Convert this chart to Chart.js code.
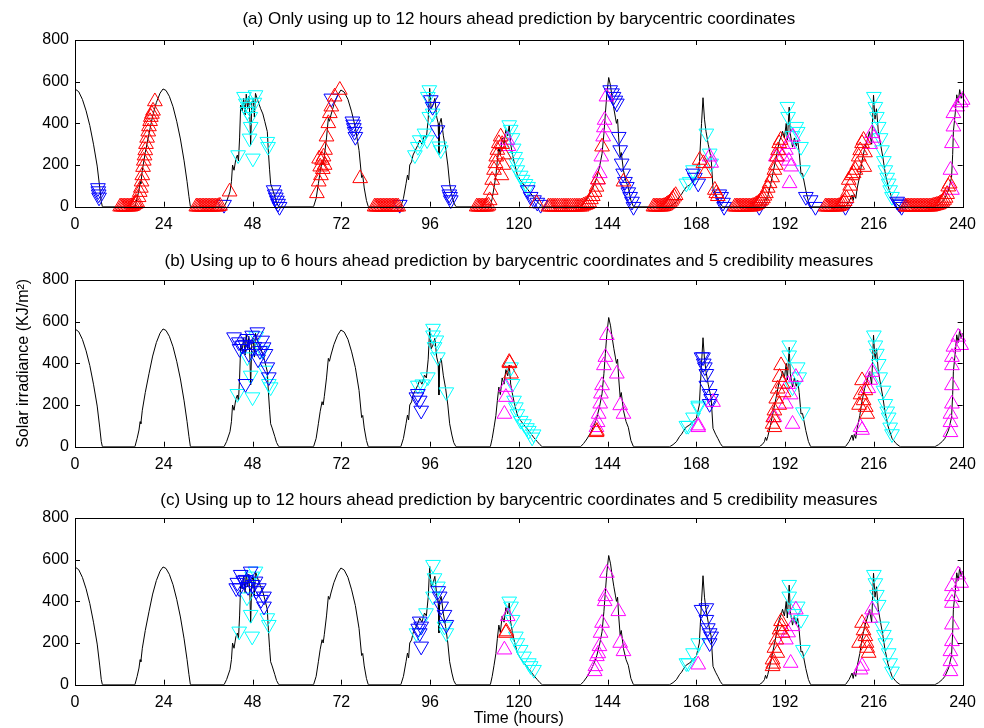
<!DOCTYPE html>
<html>
<head>
<meta charset="utf-8">
<script src="https://cdn.jsdelivr.net/npm/chart.js@4.4.1/dist/chart.umd.min.js"></script>
<style>
  body { margin: 0; background: #fff; }
  #wrap { position: relative; width: 984px; height: 728px; overflow: hidden; }
  canvas { position: absolute; left: 0; }
</style>
</head>
<body>
<div id="wrap">
  <canvas id="panelA" width="984" height="240" style="top:0px"></canvas>
  <canvas id="panelB" width="984" height="240" style="top:240px"></canvas>
  <canvas id="panelC" width="984" height="250" style="top:478px"></canvas>
</div>
<script>
// measured solar irradiance, [hour, KJ/m2]
const observed = [
  [0,565],[1,552],[2,515],[3,460],[4,390],[5,300],[6,195],[6.7,90],[7.1,25],[7.4,0],
  [16.2,0],[16.8,40],[17.3,80],[17.6,120],[17.8,110],[18.2,175],[19,260],[20,350],[21,435],[22,500],[23,545],[23.8,565],[24.6,558],[25.5,530],[26.5,480],[27.5,410],[28.5,325],[29.5,220],[30.3,120],[30.8,50],[31.2,0],
  [40.3,0],[41,25],[41.9,72],[42.3,120],[42.6,200],[43,175],[43.5,230],[43.9,248],[44.2,220],[44.5,330],[44.8,488],[45.2,460],[45.6,520],[46,440],[46.3,540],[46.7,470],[47,530],[47.3,420],[47.5,296],[47.8,500],[48.2,520],[48.5,430],[48.8,544],[49.3,515],[49.8,490],[50.2,470],[50.8,445],[51.3,410],[52,360],[52.3,260],[52.6,180],[52.9,110],[53.3,90],[54,50],[54.5,20],[55.1,0],
  [64.5,0],[65.2,40],[65.8,110],[66.3,170],[66.8,216],[67.1,200],[67.4,240],[68,330],[68.5,424],[68.8,410],[69.2,440],[70,490],[71,535],[71.9,560],[72.8,550],[73.8,515],[74.8,455],[75.8,380],[76.8,270],[77.5,140],[77.8,150],[78.2,90],[78.8,30],[79.3,0],
  [88.1,0],[88.8,40],[89.5,110],[89.9,152],[90.2,128],[90.5,200],[91,215],[91.4,248],[92,270],[92.7,296],[93.2,320],[93.8,300],[94.5,344],[95,330],[95.5,420],[95.9,568],[96.3,470],[96.8,488],[97.3,520],[97.8,430],[98.2,400],[98.4,248],[98.6,400],[99,424],[99.6,340],[100.2,280],[100.8,200],[101.3,110],[101.9,56],[102.4,20],[103,0],
  [112.3,0],[112.8,40],[113.3,93],[113.8,150],[114.2,222],[114.6,286],[115,250],[115.5,330],[116,300],[116.5,370],[117,340],[117.4,392],[117.8,300],[118.2,260],[118.7,216],[119.6,152],[120.5,125],[121.4,104],[122.3,85],[123.2,64],[124,45],[125,24],[125.7,10],[126.3,0],
  [136.7,0],[137.5,15],[138.4,37],[139.5,70],[140.5,110],[141.1,141],[141.8,190],[142.5,254],[143,350],[143.4,447],[143.8,540],[144.3,620],[144.8,580],[145.2,527],[145.7,470],[146.1,430],[146.4,400],[146.7,420],[147,330],[147.4,238],[147.7,260],[148.3,173],[149,120],[149.6,93],[150.3,30],[151,0],
  [160.8,0],[161.7,10],[162.6,24],[163.5,50],[164,60],[164.4,72],[165.3,95],[166.2,104],[167,120],[168,137],[168.8,200],[169.4,400],[169.8,523],[170.2,420],[170.6,362],[171.2,300],[172,233],[172.5,88],[173.2,60],[173.8,40],[174.5,15],[175.1,0],
  [185,0],[185.8,10],[186.4,24],[186.7,45],[187,30],[187.3,48],[188,100],[188.6,152],[189.5,230],[190.4,312],[191,340],[191.3,362],[191.8,330],[192.3,400],[192.6,320],[193.1,478],[193.4,350],[194,286],[194.5,330],[195,290],[195.4,318],[195.8,260],[196.3,157],[196.7,160],[197.6,77],[198.3,25],[198.9,0],
  [208.3,0],[209.3,25],[210.1,56],[210.4,30],[210.7,60],[211.1,40],[211.5,90],[212.2,150],[212.8,220],[213.5,280],[214.2,320],[214.8,360],[215.4,300],[215.9,535],[216.3,420],[216.7,470],[217.2,362],[217.8,300],[218.4,240],[219,169],[219.8,100],[220.9,40],[222,15],[223.1,0],
  [232.5,0],[233.5,10],[234.5,25],[235.2,40],[236.2,80],[237,141],[237.3,250],[237.5,362],[238,450],[238.4,537],[238.8,500],[239.2,562],[239.6,520],[240,545]
];

// (a) predictions, up to 12 h ahead
const aRed = [
  [12.2,0],[12.6,0],[13,0],[13.4,0],[13.8,0],[14.2,0],[14.6,0],[15,0],[15.4,2],[15.8,6],[16.2,12],[16.5,15],
  [16.8,20],[17.2,45],[17.5,70],[17.8,90],[18,120],[18.2,150],[18.4,190],[18.6,220],[18.8,245],[19,270],[19.2,300],[19.5,330],[19.8,360],[20,385],[20.3,410],[20.5,430],[20.8,445],[21.1,460],[21.6,505],
  [32.8,0],[33.2,0],[33.6,0],[34,0],[34.4,0],[34.8,0],[35.2,0],[35.6,0],[36,0],[36.4,0],[36.8,0],[37.2,0],[37.6,0],[38,0],[38.4,0],[38.8,2],[39.2,4],
  [41.8,72],
  [65.4,64],[65.9,120],[66,230],[66.3,192],[66.5,150],[66.8,224],[67,180],[67.2,240],[67.5,200],[67.6,272],[68,336],[68.5,400],[68.9,448],[69.3,480],[70.2,528],[71.6,560],
  [77.1,136],
  [81,0],[81.4,0],[81.8,0],[82.2,0],[82.6,0],[83,0],[83.4,0],[83.8,0],[84.2,0],[84.6,0],[85,0],[85.4,0],[85.8,0],[86.2,0],[86.6,0],[87,0],[87.4,0],
  [108.6,0],[109,0],[109.4,0],[109.8,0],[110.2,0],[110.6,0],[111,0],[111.4,0],[111.8,5],[112.1,30],[112.4,80],[112.8,128],[113.3,176],[113.7,208],[113.9,240],[114.2,272],[114.6,304],[115.1,336],[115.5,300],[115.8,200],[116,250],[115.3,150],
  [124.8,16],
  [128,0],[128.5,0],[129,0],[129.5,0],[130,0],[130.5,0],[131,0],[131.5,0],[132,0],[132.5,0],[133,0],[133.5,0],[134,0],[134.5,0],[135,0],[135.5,0],[136,0],[136.5,0],[137,0],[137.5,5],[138,8],[138.5,12],[139,20],[139.5,35],[140,50],[140.5,70],[141,95],[141.4,130],
  [142.5,288],[148.3,120],
  [156.4,0],[156.8,0],[157.2,0],[157.6,0],[158,0],[158.4,0],[158.8,0],[159.2,2],[159.6,5],[160,10],[160.4,15],[160.8,20],[161.2,28],[161.6,38],[162,48],[162.4,55],
  [168.9,224],[169.9,208],[170.3,160],[173,80],[173.4,64],[173.8,50],
  [178.4,0],[178.8,0],[179.2,0],[179.6,0],[180,0],[180.4,0],[180.8,0],[181.2,0],[181.6,0],[182,0],[182.4,0],[182.8,0],[183.2,2],[183.6,4],[184,8],[184.4,12],[184.8,18],[185.2,25],[185.6,32],[186,40],[186.4,52],[186.8,64],[187.3,90],[187.8,112],[188.5,140],[189.1,176],[189.5,200],[189.8,240],[190.1,270],[190.4,304],[190.8,320],
  [202.9,0],[203.3,0],[203.7,0],[204.1,0],[204.5,0],[204.9,0],[205.3,0],[205.7,0],[206.1,0],[206.5,2],[206.9,5],[207.3,10],[207.7,18],[208.1,26],[208.6,40],[209,70],[209.2,128],[209.6,100],[210,150],[210.5,160],[211,176],[211.5,200],[211.9,240],[212.3,270],[212.8,304],[213.2,320],[213.6,260],[213.4,190],
  [224.6,0],[225,0],[225.4,0],[225.8,0],[226.2,0],[226.6,0],[227,0],[227.4,0],[227.8,0],[228.2,0],[228.6,0],[229,0],[229.4,0],[229.8,0],[230.2,0],[230.6,0],[231,0],[231.4,0],[231.8,2],[232.2,4],[232.6,6],[233,8],[233.4,10],[233.8,14],[234.2,18],[234.6,24],[235,32],[235.4,42],[235.8,60],[236.1,96],[236.5,110]
];
const aCyan = [
  [44.1,248],[45.7,528],[46.2,496],[46.6,456],[47,480],[47.4,432],[47.5,384],[47.2,328],[48.1,232],[48.8,536],[48.5,500],[52,312],[52.2,288],
  [91.9,248],[92.7,288],[93.2,320],[94.5,352],[95.2,320],[95.4,528],[95.8,560],[95.8,432],[96.7,448],[98.5,290],[98.9,272],
  [117.4,392],[117.8,370],[118.3,330],[118.6,280],[119,240],[119.3,210],[119.6,176],[120.5,150],[121,130],[121.8,110],[122.5,96],
  [165.3,112],[166.2,120],[167.1,176],[170.7,352],[171.6,256],[172,208],
  [192.6,480],[192.8,432],[194,340],[195,384],[195.4,360],[196.3,288],[196.8,176],
  [216,528],[216.4,480],[216.8,432],[217.3,384],[217.8,330],[218.2,272],[218.7,220],[219.1,176],[219.6,140],[220,112],[220.4,80],[220.9,48]
];
const aBlue = [
  [6.2,90],[6.3,75],[6.4,60],[6.5,45],[40.3,10],
  [53.7,80],[54,60],[54.3,45],[54.6,30],[54.9,15],[55.3,0],
  [69.3,520],[75,410],[75.2,395],[75.4,378],[75.6,360],[75.8,336],[87.8,10],
  [96.2,512],[96.7,480],[98,368],[101,80],[101.2,60],[101.4,48],[101.6,32],
  [122.4,80],[123.2,48],[124.1,32],[125,20],[125.9,10],
  [144.7,560],[145.2,545],[145.6,528],[146.1,510],[146.5,496],[147,336],[147.4,272],[147.8,208],[148.2,160],[148.7,120],[149.2,96],[149.6,70],[150.1,48],[150.6,25],[151,0],
  [167.1,160],[167.6,140],[168.5,112],[174.2,60],[174.7,48],[175.2,20],[175.5,0],
  [185,0],[197.6,48],[198.9,32],[200.2,0],[208.3,0],[222.3,25],[222.7,16],[223.1,10],[223.5,0]
];
const aMagenta = [
  [116.9,320],[117.2,290],
  [141.4,130],[141.9,160],[142.3,240],[142.8,336],[143,380],[143.2,416],[143.7,528],
  [171.6,240],[172,210],
  [189.5,240],[191.3,240],[192.2,272],[192.8,300],[193.2,112],[193.6,192],[194.1,336],[193,220],
  [215,300],[215.5,352],[216,330],
  [236.7,176],[237.1,80],[237.1,304],[237.5,384],[237.5,448],[238.5,480],[239.5,500],[240,512]
];

// (b) up to 6 h ahead with credibility measures
const bRed = [
  [117.4,406],[117.5,400],[117.9,350],[141,69],[141.1,75],
  [190.9,390],[190.5,334],[190,278],[189.6,230],[189.1,173],[188.6,109],[189.1,93],[191.3,302],[191.6,260],[190.4,200],[188.8,140],
  [212.8,318],[213.7,270],[214.2,157],[213.2,222],[212.4,250],[212,200],[213.8,190]
];
const bCyan = [
  [43.9,254],[48,238],[46.6,430],[47.5,342],[50.6,462],[51.5,366],[52.4,302],[52.9,286],[49,530],
  [92.7,294],[93.9,300],[95.4,334],[96.8,567],[96.8,535],[97.7,511],[97.2,479],[98.1,430],[100.4,262],
  [117.9,382],[118.3,302],[118.7,222],[119.2,190],[119.6,157],[120.5,125],[121.4,109],[122.2,90],[122.7,77],[123.6,45],[124,60],
  [165.3,101],[165.8,101],[167.1,141],[168.5,190],[168.5,198],
  [193.1,487],[193.1,439],[194,286],[195.4,382],[195.8,334],[196.8,166],
  [216,535],[216.4,487],[216.8,447],[217.3,398],[217.7,334],[218.6,270],[219.1,206],[219.6,170],[220,141],[220.4,93],[220.9,61]
];
const bBlue = [
  [43,526],[44.3,502],[44.5,470],[45.2,486],[46,490],[46.1,302],[46.6,518],[47,446],[47.9,534],[48.5,480],[49.3,550],[49.5,420],[50,460],[50.6,510],[51,478],[51.5,446],[52,382],[52.4,334],
  [92.3,238],[92.7,254],[93.2,222],[93.6,174],
  [169.4,430],[169.8,430],[170,400],[170.3,382],[170.7,350],[170.7,294],[171.6,254],[172,230],[171.6,206]
];
const bMagenta = [
  [116.5,286],[116.5,238],[116.1,157],
  [143.8,535],[143.4,430],[143,390],[142.5,294],[142.2,254],[142,206],[141.6,157],[141.3,117],[141,93],[146.5,350],[147.4,198],[148.3,157],
  [168.5,101],[168.5,93],[172.5,214],
  [189.1,141],[192.2,206],[192.8,300],[193.5,250],[194,109],[194.9,334],
  [212.4,93],[212.8,80],[214.5,280],[215,320],[215.5,358],
  [238.8,527],[239.6,487],[237.5,479],[237.1,430],[237.1,390],[237.1,294],[237.1,206],[236.7,157],[236.7,117],[236.7,69]
];

// (c) up to 12 h ahead with credibility measures
const cRed = [
  [116.5,248],[116.6,255],
  [190.9,304],[190.5,264],[189.6,216],[189.1,176],[188.6,120],[188.6,88],[191.3,248],[189.9,152],[188.8,100],[191,280],
  [212.8,296],[213.7,232],[214.2,176],[214.6,152],[212,200],[213.2,260],[214,200]
];
const cCyan = [
  [44.4,256],[47.9,232],[47.5,336],[48.8,544],[47.9,520],[52,320],[52.4,288],[46.5,420],
  [92.3,248],[94.9,344],[96.8,576],[97.2,512],[98.1,472],[96.8,424],[99.9,280],[100.4,248],
  [117.4,400],[117.9,376],[118.3,312],[119.2,232],[119.6,200],[120.5,168],[121.4,136],[122.7,104],[123.2,90],[124.1,72],
  [165.3,104],[165.8,104],[167.1,152],[168.5,200],
  [193.1,480],[193.1,424],[194.5,340],[195.4,376],[196.3,312],[196.8,168],
  [216,528],[216.4,488],[216.8,432],[217.3,384],[218.2,280],[218.7,240],[219.1,200],[220,152],[220.4,104],[220.9,64]
];
const cBlue = [
  [43.6,464],[43.9,490],[44.4,464],[44.8,528],[45.5,500],[46.1,504],[46.8,470],[47.5,544],[48,480],[48.8,496],[49,450],[49.7,464],[50.3,408],[51.1,424],[51.1,376],
  [92.8,270],[93.2,304],[93.6,280],[93.2,248],[93.6,184],[98.2,450],[98.6,424],[99,376],[99.9,336],[100.4,288],
  [169.4,360],[170.7,368],[170.7,312],[171.1,272],[171.6,248],[171.6,200],[172,232]
];
const cMagenta = [
  [117,328],[116.1,168],
  [143.8,536],[143.4,424],[143.2,400],[142.5,296],[142.1,248],[141.8,184],[141.5,150],[141.1,136],[140.7,88],[140.5,64],[146.9,352],[147.4,200],[148.3,160],
  [168.5,96],
  [192.2,216],[192.8,250],[193.5,104],[194,280],[194.9,360],
  [212.4,72],[212.8,90],[215,320],[215.5,360],
  [238.8,528],[239.6,488],[237.1,472],[237.1,424],[237.1,392],[237.1,288],[237.1,208],[236.7,160],[236.7,112],[236.7,64]
];

const hourTicks = [0, 24, 48, 72, 96, 120, 144, 168, 192, 216, 240];
const irrTicks = [0, 200, 400, 600, 800];

Chart.defaults.font.family = '"Liberation Sans", Arial, Helvetica, sans-serif';
Chart.defaults.font.size = 16;
Chart.defaults.color = '#000';

const toXY = pairs => pairs.map(p => ({ x: p[0], y: p[1] }));

// box round the plot with inward ticks on every side
const boxTicks = {
  id: 'boxTicks',
  afterDraw(chart) {
    const { ctx, chartArea: a, scales: { x, y } } = chart;
    ctx.save();
    ctx.strokeStyle = '#000';
    ctx.lineWidth = 1;
    ctx.beginPath();
    hourTicks.forEach(v => {
      const px = Math.round(x.getPixelForValue(v)) + 0.5;
      ctx.moveTo(px, a.bottom); ctx.lineTo(px, a.bottom - 5);
      ctx.moveTo(px, a.top); ctx.lineTo(px, a.top + 5);
    });
    irrTicks.forEach(v => {
      const py = Math.round(y.getPixelForValue(v)) + 0.5;
      ctx.moveTo(a.left, py); ctx.lineTo(a.left + 5, py);
      ctx.moveTo(a.right, py); ctx.lineTo(a.right - 5, py);
    });
    ctx.stroke();
    ctx.strokeRect(Math.round(a.left) + 0.5, Math.round(a.top) + 0.5,
      Math.round(a.right - a.left), Math.round(a.bottom - a.top));
    ctx.restore();
  }
};

function markers(data, color, down, order) {
  return {
    data: toXY(data),
    pointStyle: 'triangle',
    rotation: down ? 180 : 0,
    pointRadius: 8.5,
    pointBorderWidth: 1,
    borderColor: color,
    backgroundColor: 'rgba(0,0,0,0)',
    pointBackgroundColor: 'rgba(0,0,0,0)',
    showLine: false,
    clip: false,
    order: order
  };
}

function makePanel(id, title, titlePad, red, cyan, blue, magenta, yTitle, xTitle, xHeight) {
  new Chart(document.getElementById(id), {
    type: 'scatter',
    data: {
      datasets: [
        markers(red, '#ff0000', false, 1),
        markers(magenta, '#ff00ff', false, 2),
        markers(blue, '#0000ff', true, 3),
        markers(cyan, '#00ffff', true, 4),
        {
          data: toXY(observed),
          showLine: true,
          pointRadius: 0,
          borderColor: '#000',
          borderWidth: 1,
          tension: 0,
          order: 9
        }
      ]
    },
    options: {
      responsive: false,
      animation: false,
      layout: { padding: { left: 0, right: 16, top: 0, bottom: 0 } },
      plugins: {
        legend: { display: false },
        tooltip: { enabled: false },
        title: {
          display: true,
          fullSize: false,
          text: title,
          font: { size: 17, weight: 'normal' },
          padding: { top: titlePad, bottom: 40 - 20.4 - titlePad }
        }
      },
      scales: {
        x: {
          type: 'linear',
          min: 0,
          max: 240,
          afterBuildTicks: s => { s.ticks = hourTicks.map(v => ({ value: v })); },
          afterFit: s => { s.height = xHeight; },
          grid: { display: false, drawTicks: false },
          border: { display: false },
          ticks: { padding: 8, maxRotation: 0, autoSkip: false },
          title: { display: !!xTitle, text: xTitle || '', font: { size: 16 }, padding: { top: 0, bottom: 0 } }
        },
        y: {
          type: 'linear',
          min: 0,
          max: 800,
          afterBuildTicks: s => { s.ticks = irrTicks.map(v => ({ value: v })); },
          afterFit: s => { s.width = 75; },
          grid: { display: false, drawTicks: false },
          border: { display: false },
          ticks: { padding: 6 },
          title: { display: !!yTitle, text: yTitle || '', font: { size: 16 }, padding: { top: 14, bottom: 0 } }
        }
      }
    },
    plugins: [boxTicks]
  });
}

makePanel('panelA', '(a) Only using up to 12 hours ahead prediction by barycentric coordinates', 9,
  aRed, aCyan, aBlue, aMagenta, null, null, 33.3);
makePanel('panelB', '(b) Using up to 6 hours ahead prediction by barycentric coordinates and 5 credibility measures', 10.8,
  bRed, bCyan, bBlue, bMagenta, 'Solar irradiance (KJ/m\u00B2)', null, 33.3);
makePanel('panelC', '(c) Using up to 12 hours ahead prediction by barycentric coordinates and 5 credibility measures', 11.8,
  cRed, cCyan, cBlue, cMagenta, null, 'Time (hours)', 43.3);
</script>
</body>
</html>
